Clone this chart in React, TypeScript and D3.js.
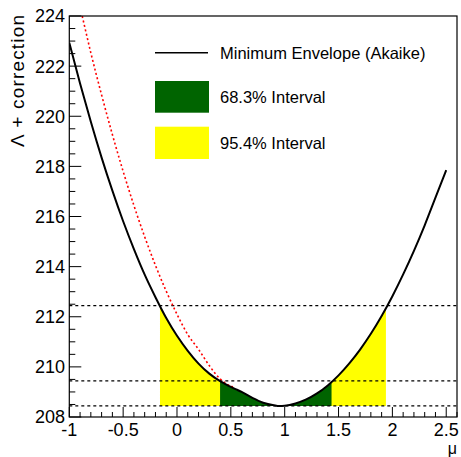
import * as d3 from "d3";

// ── Data ──────────────────────────────────────────────────

const muValues = [
  -1.0, -0.9, -0.8, -0.7, -0.6, -0.5, -0.4, -0.3, -0.2, -0.1, 0.0, 0.1, 0.2,
  0.3, 0.4, 0.45, 0.5, 0.55, 0.6, 0.7, 0.8, 0.9, 0.95, 1.0, 1.1, 1.2, 1.3,
  1.4, 1.5, 1.6, 1.7, 1.8, 1.9, 2.0, 2.1, 2.2, 2.3, 2.4, 2.5,
];
const envelopeValues = [
  222.93, 221.31, 219.78, 218.35, 217.03, 215.81, 214.7, 213.68, 212.78,
  211.95, 211.24, 210.64, 210.13, 209.73, 209.43, 209.31, 209.2, 209.1,
  209.0, 208.76, 208.57, 208.47, 208.44, 208.45, 208.54, 208.7, 208.94,
  209.26, 209.66, 210.14, 210.69, 211.32, 212.03, 212.82, 213.69, 214.63,
  215.65, 216.75, 217.85,
];

const redMu = [
  -0.88, -0.8, -0.7, -0.6, -0.5, -0.4, -0.3, -0.2, -0.1, 0.0, 0.1, 0.2, 0.3,
  0.4, 0.46, 0.52,
];
const redValues = [
  224.0, 222.53, 220.85, 219.27, 217.8, 216.44, 215.19, 214.05, 213.02,
  212.1, 211.29, 210.7, 210.05, 209.52, 209.32, 209.2,
];

const minLevel = 208.44;
const dashedLevels = [208.44, 209.44, 212.44];
const interval68 = [0.4, 1.435];
const interval95 = [-0.158, 1.94];

const xMajorTicks = [-1, -0.5, 0, 0.5, 1, 1.5, 2, 2.5];
const xTickLabels = ["-1", "-0.5", "0", "0.5", "1", "1.5", "2", "2.5"];
const yMajorTicks = [208, 210, 212, 214, 216, 218, 220, 222, 224];

const legendLabels = [
  "Minimum Envelope (Akaike)",
  "68.3% Interval",
  "95.4% Interval",
];

// ── Layout ────────────────────────────────────────────────

const W = 461;
const H = 457;
const left = 69.3;
const right = 457;
const top = 16;
const bottom = 417;
const FONT = "'Liberation Sans', Arial, Helvetica, sans-serif";

const x = d3.scaleLinear().domain([-1, 2.6]).range([left, right]);
const y = d3.scaleLinear().domain([208, 224]).range([bottom, top]);

const envelopePts: [number, number][] = muValues.map((m, i) => [
  m,
  envelopeValues[i],
]);
const redPts: [number, number][] = redMu.map((m, i) => [m, redValues[i]]);

const valueAt = (m: number) => {
  const i = d3.bisectLeft(muValues, m);
  if (i <= 0) return envelopeValues[0];
  if (i >= muValues.length) return envelopeValues[envelopeValues.length - 1];
  const t = (m - muValues[i - 1]) / (muValues[i] - muValues[i - 1]);
  return envelopeValues[i - 1] + t * (envelopeValues[i] - envelopeValues[i - 1]);
};

const bandPts = (lo: number, hi: number): [number, number][] => [
  [lo, valueAt(lo)],
  ...envelopePts.filter(([m]) => m > lo && m < hi),
  [hi, valueAt(hi)],
];

const line = d3
  .line<[number, number]>()
  .x((d) => x(d[0]))
  .y((d) => y(d[1]))
  .curve(d3.curveMonotoneX);

const area = d3
  .area<[number, number]>()
  .x((d) => x(d[0]))
  .y0(y(minLevel))
  .y1((d) => y(d[1]))
  .curve(d3.curveMonotoneX);

export default function App() {
  const xMinor = d3.range(-1, 2.6001, 0.1);
  const yMinor = d3.range(208, 224.001, 0.5);

  return (
    <svg
      width={W}
      height={H}
      style={{ position: "absolute", left: 0, top: 0, background: "#fff" }}
      fontFamily={FONT}
    >
      <defs>
        <clipPath id="plot">
          <rect x={left} y={top} width={right - left} height={bottom - top} />
        </clipPath>
      </defs>

      {/* Interval bands */}
      <path d={area(bandPts(interval95[0], interval95[1])) ?? ""} fill="#ffff00" />
      <path d={area(bandPts(interval68[0], interval68[1])) ?? ""} fill="#006400" />

      {/* Dashed levels */}
      {dashedLevels.map((v) => (
        <line
          key={v}
          x1={left}
          x2={right}
          y1={y(v)}
          y2={y(v)}
          stroke="#000"
          strokeWidth={1.3}
          strokeDasharray="3,3"
        />
      ))}

      <g clipPath="url(#plot)">
        <path
          d={line(redPts) ?? ""}
          fill="none"
          stroke="#ff0000"
          strokeWidth={1.6}
          strokeDasharray="2,2.5"
        />
        <path
          d={line(envelopePts) ?? ""}
          fill="none"
          stroke="#000"
          strokeWidth={2}
        />
      </g>

      {/* Frame */}
      <rect
        x={left}
        y={top}
        width={right - left}
        height={bottom - top}
        fill="none"
        stroke="#000"
        strokeWidth={1.2}
      />

      {/* X axis ticks */}
      {xMinor.map((m) => {
        const major = xMajorTicks.some((t) => Math.abs(t - m) < 1e-6);
        return (
          <line
            key={`xm${m.toFixed(2)}`}
            x1={x(m)}
            x2={x(m)}
            y1={bottom}
            y2={bottom - (major ? 10 : 5)}
            stroke="#000"
          />
        );
      })}
      {xMajorTicks.map((t, i) => (
        <text
          key={`xl${t}`}
          x={x(t)}
          y={436}
          textAnchor="middle"
          fontSize={18}
          fill="#000"
        >
          {xTickLabels[i]}
        </text>
      ))}
      <text x={457} y={454} textAnchor="end" fontSize={16} fill="#000">
        μ
      </text>

      {/* Y axis ticks */}
      {yMinor.map((v) => {
        const major = yMajorTicks.includes(v);
        return (
          <line
            key={`ym${v}`}
            x1={left}
            x2={left + (major ? 12 : 6)}
            y1={y(v)}
            y2={y(v)}
            stroke="#000"
          />
        );
      })}
      {yMajorTicks.map((v) => (
        <text
          key={`yl${v}`}
          x={65}
          y={y(v)}
          dy="0.36em"
          textAnchor="end"
          fontSize={18}
          fill="#000"
        >
          {v}
        </text>
      ))}
      <text
        transform={`translate(24, 15) rotate(-90)`}
        textAnchor="end"
        fontSize={19}
        textLength={132}
        lengthAdjust="spacing"
        fill="#000"
      >
        Λ + correction
      </text>

      {/* Legend */}
      <line x1={155} x2={208} y1={52.7} y2={52.7} stroke="#000" strokeWidth={1.5} />
      <rect x={155} y={81} width={54} height={31.7} fill="#006400" />
      <rect x={155} y={126.7} width={54} height={32.3} fill="#ffff00" />
      {legendLabels.map((label, i) => (
        <text
          key={label}
          x={220}
          y={[52.7, 97, 143][i]}
          dy="0.36em"
          fontSize={16.5}
          fill="#000"
        >
          {label}
        </text>
      ))}
    </svg>
  );
}
